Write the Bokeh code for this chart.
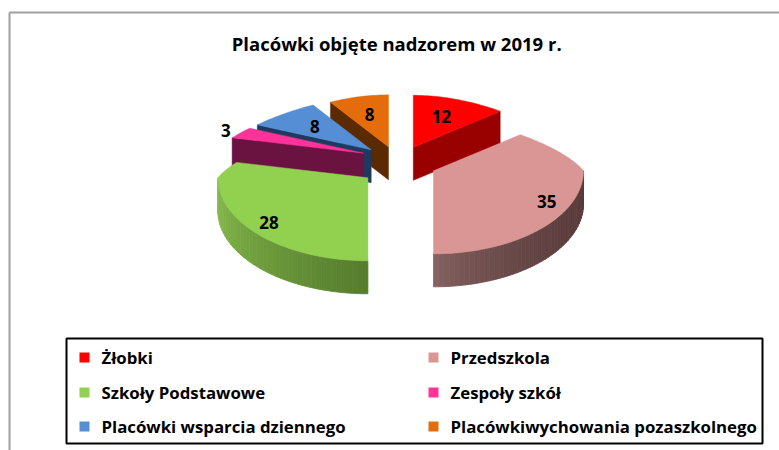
import math
from bokeh.plotting import figure
from bokeh.models import Range1d
from bokeh.core.properties import value
from bokeh.embed import file_html
from bokeh.resources import INLINE

# ---------------- data ----------------
title_text = "Placówki  objęte nadzorem w 2019  r."
categories = ["Żłobki", "Przedszkola", "Szkoły Podstawowe", "Zespoły szkół",
              "Placówki wsparcia dziennego", "Placówkiwychowania pozaszkolnego"]
values = [12, 35, 28, 3, 8, 8]
top_colors = ["#FF0000", "#D99694", "#92D050", "#FF3399", "#558ED5", "#E46C0A"]
wall_dark = ["#990000", "#5A3B3B", "#557C2E", "#6A1340", "#1F3A5E", "#5B2A00"]
wall_light = ["#B00000", "#8A6666", "#86BA4C", "#7A1A4A", "#2A4A70", "#6B3300"]

# ---------------- geometry (pixels) ----------------
W, H = 779, 450
CX, CY = 398.0, 157.0
RX, RY_FAR, RY_NEAR = 150.0, 52.0, 83.0
PERSP = 0.28
DEPTH = 33.0
EXPL = 38.0
K_FAR, K_NEAR = 0.29, 0.9

p = figure(width=W, height=H, x_range=Range1d(0, W), y_range=Range1d(H, 0),
           output_backend="svg", toolbar_location=None, min_border=0)
p.axis.visible = False
p.grid.visible = False
p.outline_line_color = None
p.background_fill_color = "white"
p.border_fill_color = "white"

FONT = value("Open Sans")


def proj(cx, cy, deg, r=1.0):
    t = math.radians(deg)
    s, c = math.sin(t), math.cos(t)
    px = RX * r * s * (1 - PERSP * max(c, 0.0))
    py = -(RY_FAR if c > 0 else RY_NEAR) * r * c
    return cx + px, cy + py


def hex2rgb(h):
    h = h.lstrip("#")
    return tuple(int(h[i:i + 2], 16) for i in (0, 2, 4))


def lerp_col(a, b, t):
    ca, cb = hex2rgb(a), hex2rgb(b)
    return "#%02X%02X%02X" % tuple(int(round(ca[i] + (cb[i] - ca[i]) * t)) for i in range(3))


total = float(sum(values))
slices = []
acc = 0.0
for i, v in enumerate(values):
    a1 = acc / total * 360.0
    acc += v
    a2 = acc / total * 360.0
    m = (a1 + a2) / 2
    mr = math.radians(m)
    k = K_FAR if math.cos(mr) > 0 else K_NEAR
    cx = CX + EXPL * math.sin(mr)
    cy = CY - EXPL * math.cos(mr) * k
    slices.append(dict(i=i, a1=a1, a2=a2, m=m, cx=cx, cy=cy))

order = sorted(slices, key=lambda s: -math.cos(math.radians(s["m"])))

for s in order:
    i, a1, a2, cx, cy = s["i"], s["a1"], s["a2"], s["cx"], s["cy"]
    # radial walls
    if math.sin(math.radians(a1)) < -1e-6:
        ex, ey = proj(cx, cy, a1)
        p.patch([cx, ex, ex, cx], [cy, ey, ey + DEPTH, cy + DEPTH],
                fill_color=wall_dark[i], line_color=wall_dark[i], line_width=0.5)
    if math.sin(math.radians(a2)) > 1e-6:
        ex, ey = proj(cx, cy, a2)
        p.patch([cx, ex, ex, cx], [cy, ey, ey + DEPTH, cy + DEPTH],
                fill_color=wall_dark[i], line_color=wall_dark[i], line_width=0.5)
    # curved outer wall (front half)
    lo, hi = max(a1, 90.0), min(a2, 270.0)
    if hi > lo:
        n = max(2, int((hi - lo) / 2))
        angs = [lo + (hi - lo) * j / n for j in range(n + 1)]
        pts = [proj(cx, cy, a) for a in angs]
        xmin = min(q[0] for q in pts)
        xmax = max(q[0] for q in pts)
        for j in range(n):
            (x0, y0), (x1, y1) = pts[j], pts[j + 1]
            t = (((x0 + x1) / 2) - xmin) / max(1.0, xmax - xmin)
            t = min(1.0, max(0.0, t)) ** 0.6
            col = lerp_col(wall_light[i], wall_dark[i], t)
            p.patch([x0, x1, x1, x0], [y0, y1, y1 + DEPTH, y0 + DEPTH],
                    fill_color=col, line_color=col, line_width=0.8)
    # top face
    n = max(4, int((a2 - a1) / 1.5))
    xs, ys = [cx], [cy]
    for j in range(n + 1):
        x, y = proj(cx, cy, a1 + (a2 - a1) * j / n)
        xs.append(x)
        ys.append(y)
    p.patch(xs, ys, fill_color=top_colors[i], line_color=top_colors[i], line_width=0.5)

# data labels
lx, ly, lt = [], [], []
for s in slices:
    v = values[s["i"]]
    c = math.cos(math.radians(s["m"]))
    if v / total < 0.05:
        f = 1.12
    else:
        f = 0.65 if c > 0 else 0.82
    x, y = proj(s["cx"], s["cy"], s["m"], f)
    if c <= 0 and v / total >= 0.05:
        y += 4
    lx.append(x)
    ly.append(y)
    lt.append(str(v))
p.text(x=lx, y=ly, text=lt, text_font=FONT, text_font_style="bold", text_font_size="17px",
       text_align="center", text_baseline="middle", text_color="black")

# title
p.text(x=[401], y=[43], text=[title_text], text_font=FONT, text_font_style="bold",
       text_font_size="18.5px", text_align="center", text_baseline="middle", text_color="black")

# outer chart frame (left and top visible)
p.line([9, 9], [12, H], line_color="#A0A0A0", line_width=2)
p.line([9, W], [12, 12], line_color="#A0A0A0", line_width=2)

# legend box
p.quad(left=[66], right=[762], top=[338], bottom=[443], fill_color=None,
       line_color="black", line_width=2)
col_x = [84, 433]
row_y = [357, 392, 426]
mx, my = [], []
for i in range(len(categories)):
    r, cidx = divmod(i, 2)
    mx.append(col_x[cidx])
    my.append(row_y[r])
p.quad(left=[x - 5 for x in mx], right=[x + 5 for x in mx],
       top=[y - 5 for y in my], bottom=[y + 5 for y in my],
       fill_color=top_colors, line_color=None)
p.text(x=[x + 17 for x in mx], y=my, text=categories, text_font=FONT, text_font_style="bold",
       text_font_size="16.8px", text_align="left", text_baseline="middle", text_color="black")

open("out.html", "w").write(file_html(p, INLINE))
